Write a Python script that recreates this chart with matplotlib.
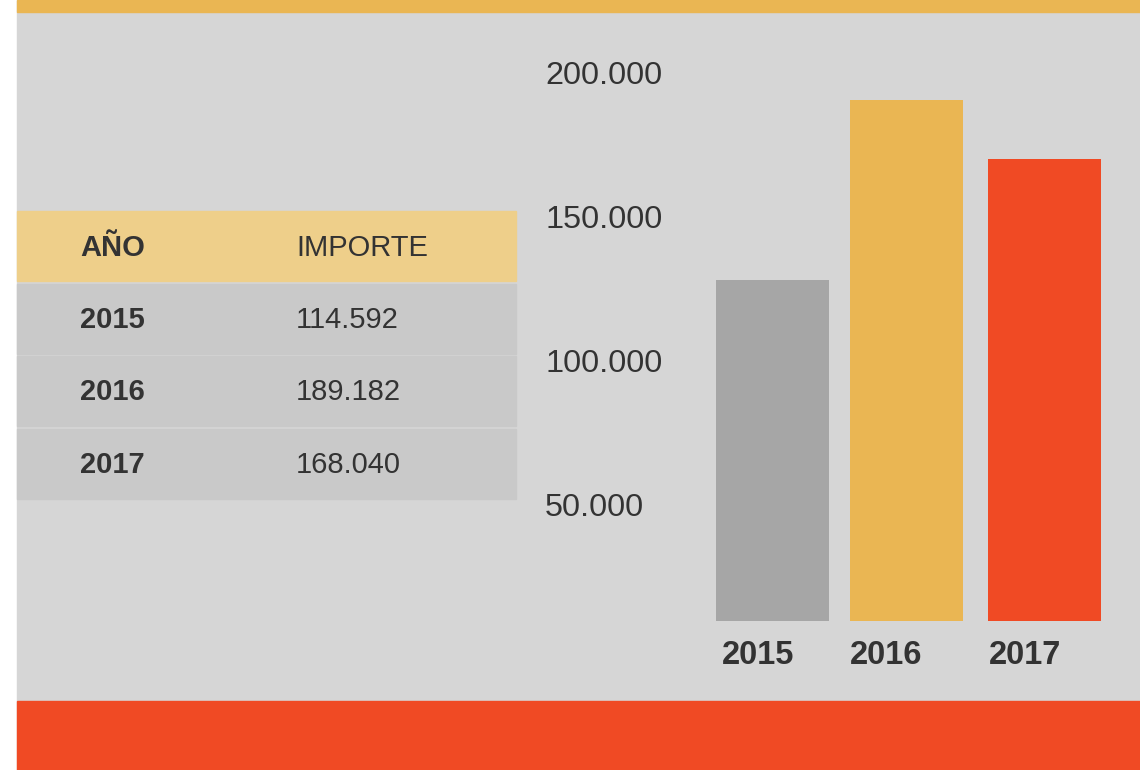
import matplotlib
matplotlib.use('Agg')
import matplotlib.pyplot as plt
from matplotlib.patches import Rectangle

# data
years = ['2015', '2016', '2017']
importe = ['114.592', '189.182', '168.040']      # as printed in the table
bar_values = [128000, 190600, 170100]            # bar heights as drawn in the chart
ticks = [50000, 100000, 150000, 200000]
tick_labels = ['50.000', '100.000', '150.000', '200.000']
header = ['AÑO', 'IMPORTE']

bar_colors = ['#a6a6a6', '#eab653', '#f04a24']
txt = '#333333'
plt.rcParams['font.family'] = ['Liberation Sans', 'DejaVu Sans']

W, H = 1140, 770
fig = plt.figure(figsize=(W / 100, H / 100), dpi=100)
fig.patch.set_facecolor('white')

# background / decoration layer in pixel coordinates
bg = fig.add_axes([0, 0, 1, 1])
bg.set_xlim(0, W)
bg.set_ylim(H, 0)
bg.axis('off')
bg.add_patch(Rectangle((17, 0), W - 17, H, color='#d6d6d6'))
bg.add_patch(Rectangle((17, 0), W - 17, 12, color='#eab653'))
bg.add_patch(Rectangle((17, 701), W - 17, H - 701, color='#f04a24'))

# table
row_top = 211
row_h = 70
row_step = 72.7
bg.add_patch(Rectangle((17, row_top), 499, row_h, color='#eecf8a'))
bg.text(80, row_top + row_h / 2 + 2, header[0], fontsize=21, fontweight='bold',
        color=txt, va='center', ha='left')
bg.text(296, row_top + row_h / 2 + 2, header[1], fontsize=21,
        color=txt, va='center', ha='left')
for i, (y, v) in enumerate(zip(years, importe)):
    top = row_top + (i + 1) * row_step
    bg.add_patch(Rectangle((17, top), 499, row_h, color='#c9c9c9'))
    bg.text(80, top + row_h / 2 + 1, y, fontsize=21, fontweight='bold',
            color=txt, va='center', ha='left')
    bg.text(296, top + row_h / 2 + 1, v, fontsize=21,
            color=txt, va='center', ha='left')

# bar chart
ax_l, ax_r, ax_t, ax_b = 700, 1140, 30, 621
ax = fig.add_axes([ax_l / W, 1 - ax_b / H, (ax_r - ax_l) / W, (ax_b - ax_t) / H])
ax.set_facecolor('none')
per_px = 50000 / 144
ax.set_ylim((649 - ax_b) * per_px, 200000 + (73 - ax_t) * per_px)
ax.set_xlim(ax_l, ax_r)

xs = [772.5, 906.5, 1044.5]
bw = 113
ax.bar(xs, bar_values, width=bw, color=bar_colors)

for s in ax.spines.values():
    s.set_visible(False)

ax.set_yticks(ticks)
ax.set_yticklabels(tick_labels, fontsize=23.3, color=txt)
ax.tick_params(axis='y', length=0, pad=(ax_l - 545) * 0.72)
for lab in ax.get_yticklabels():
    lab.set_horizontalalignment('left')

label_shift = [6, 0, 1]
ax.set_xticks([x - bw / 2 + d for x, d in zip(xs, label_shift)])
ax.set_xticklabels(years, fontsize=23.5, fontweight='bold', color=txt)
ax.tick_params(axis='x', length=0, pad=13.5)
for lab in ax.get_xticklabels():
    lab.set_horizontalalignment('left')

fig.savefig('out.png', dpi=100)
